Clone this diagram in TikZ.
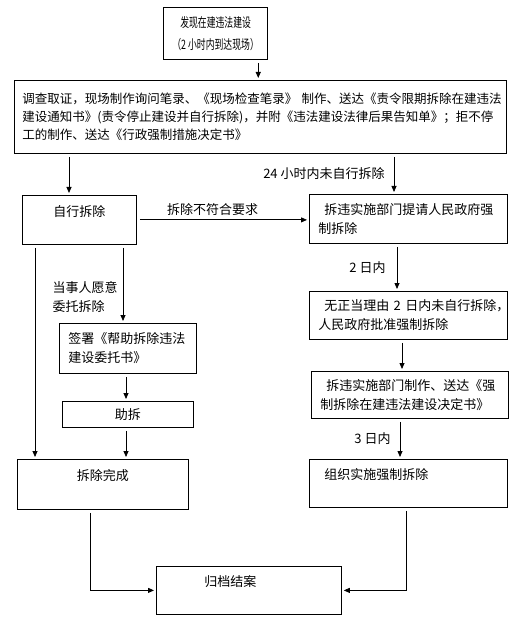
\documentclass[tikz,border=0pt]{standalone}
\usepackage{fontspec}
\newfontfamily\cjk{Noto Sans CJK SC}
\newfontfamily\cjknarrow[FakeStretch=0.68]{Noto Sans CJK SC}
\usetikzlibrary{arrows.meta}

\begin{document}
\begin{tikzpicture}[x=1pt,y=-1pt,
    box/.style={draw, line width=0.8pt, anchor=north west,
        inner xsep=9pt, inner ysep=3pt,
        font=\cjk\fontsize{13}{19}\selectfont},
    note/.style={inner sep=3pt, font=\cjk\fontsize{13}{19}\selectfont},
    arrow/.style={-{Triangle[length=6pt,width=5pt]}, line width=0.8pt,
        shorten <=3pt, shorten >=2pt}]
    \useasboundingbox (0,0) rectangle (527,617);

    % Start
    \node [box,
        align=center,
        minimum width=95pt,
        minimum height=52pt,
        font=\cjknarrow\fontsize{13}{22}\selectfont] (find) at (163,7)
        {发现在建违法建设\\（2~小时内到达现场）};

    % Investigation
    \node [box,
        align=left,
        inner xsep=8pt,
        text width=476pt,
        minimum height=73pt,
        font=\cjk\fontsize{12.5}{18}\selectfont] (survey) at (14,80)
        {调查取证，现场制作询问笔录、《现场检查笔录》~制作、送达《责令限期拆除在建违法\\
         建设通知书》(责令停止建设并自行拆除)，并附《违法建设法律后果告知单》；拒不停\\
         工的制作、送达《行政强制措施决定书》};

    % Left branch
    \node [box,
        align=center,
        minimum width=114pt,
        minimum height=49pt,
        text depth=18pt] (self) at (22,195) {自行拆除};
    \node [box,
        align=left,
        text width=119pt,
        minimum height=50pt] (entrust) at (59,323)
        {签署《帮助拆除违法\\建设委托书》};
    \node [box,
        align=center,
        minimum width=131pt,
        minimum height=26pt] (assist) at (62,401) {助拆};
    \node [box,
        align=center,
        minimum width=171pt,
        minimum height=50pt,
        text depth=18pt] (done) at (17,459) {拆除完成};

    % Right branch
    \node [box,
        align=left,
        text width=180pt,
        minimum height=49pt] (apply) at (309,194)
        {\hspace*{6pt}拆违实施部门提请人民政府强\\制拆除};
    \node [box,
        align=left,
        text width=180pt,
        minimum height=48pt] (approve) at (309,291)
        {\hspace*{6pt}无正当理由~2~日内未自行拆除，\\人民政府批准强制拆除};
    \node [box,
        align=left,
        text width=179pt,
        minimum height=47pt] (decide) at (311,371)
        {\hspace*{6pt}拆违实施部门制作、送达《强\\制拆除在建违法建设决定书》};
    \node [box,
        align=left,
        text width=180pt,
        minimum height=48pt,
        text depth=18pt] (enforce) at (309,459)
        {\hspace*{6pt}组织实施强制拆除};

    % End
    \node [box,
        align=left,
        text width=167pt,
        minimum height=48pt,
        text depth=18pt] (archive) at (156,566)
        {\hspace*{39pt}归档结案};

    % Connectors
    \draw[arrow] ([xshift=-10pt]find.south east) -- ([xshift=-10pt]find.south east |- survey.north);
    \draw[arrow] ([xshift=47pt]self.north west |- survey.south) -- ([xshift=47pt]self.north west);
    \draw[arrow] ([xshift=85pt]apply.north west |- survey.south) -- ([xshift=85pt]apply.north west)
        node[note, midway, left=6pt] (late) {24~小时内未自行拆除};
    \draw[arrow] (self.east) -- (self.east -| apply.west)
        node[note, pos=0.44, above=1pt] (poor) {拆除不符合要求};
    \draw[arrow] ([xshift=101pt]self.south west) -- ([xshift=101pt]self.south west |- entrust.north)
        node[note, pos=0.67, left=2pt, align=left] (willing) {当事人愿意\\委托拆除};
    \draw[arrow] ([xshift=13pt]self.south west) -- ([xshift=13pt]self.south west |- done.north);
    \draw[arrow] ([xshift=67pt]entrust.south west) -- ([xshift=67pt]entrust.south west |- assist.north);
    \draw[arrow] ([xshift=64pt]assist.south west) -- ([xshift=64pt]assist.south west |- done.north);
    \draw[arrow] ([xshift=88pt]apply.south west) -- ([xshift=88pt]apply.south west |- approve.north)
        node[note, midway, left=8pt] (twoday) {2~日内};
    \draw[arrow] ([xshift=93pt]approve.south west) -- ([xshift=93pt]approve.south west |- decide.north);
    \draw[arrow] ([xshift=89pt]decide.south west) -- ([xshift=89pt]decide.south west |- enforce.north)
        node[note, midway, left=6pt] (threeday) {3~日内};
    \draw[arrow] ([xshift=73pt]done.south west) |- (archive.west);
    \draw[arrow] ([xshift=97pt]enforce.south west) |- (archive.east);

\end{tikzpicture}
\end{document}
